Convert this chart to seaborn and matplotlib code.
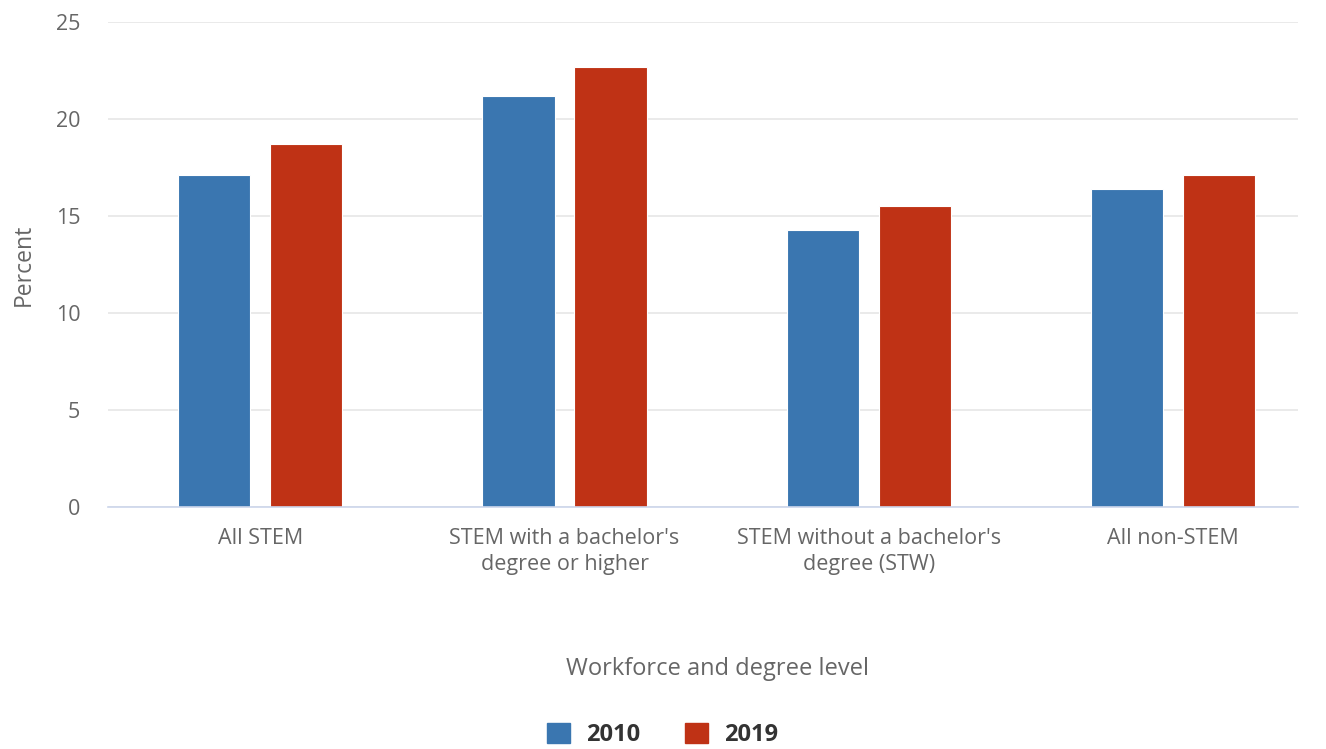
import pandas as pd
import matplotlib.pyplot as plt
import seaborn as sns

categories = [
    "All STEM",
    "STEM with a bachelor's\ndegree or higher",
    "STEM without a bachelor's\ndegree (STW)",
    "All non-STEM",
]
years = ["2010", "2019"]
values_2010 = [17.1, 21.2, 14.3, 16.4]
values_2019 = [18.7, 22.7, 15.5, 17.1]

colors = ["#3a76b0", "#bf3215"]

df = pd.DataFrame({
    "category": categories * 2,
    "year": [years[0]] * 4 + [years[1]] * 4,
    "percent": values_2010 + values_2019,
})

sns.set_style("white")
plt.rcParams["font.family"] = ["Open Sans", "DejaVu Sans"]

fig, ax = plt.subplots(figsize=(13.26, 7.49), dpi=100)
fig.subplots_adjust(left=108 / 1326, right=1298 / 1326, top=1 - 22 / 749, bottom=1 - 507 / 749)

sns.barplot(
    data=df, x="category", y="percent", hue="year",
    palette=colors, saturation=1, width=0.604, gap=0.215,
    edgecolor="white", linewidth=0.8, ax=ax, legend=False,
)

ax.set_xlim(-0.5, 3.41)
ax.set_ylim(0, 25)
ax.set_yticks([0, 5, 10, 15, 20, 25])
ax.yaxis.grid(True, color="#e6e6e6", linewidth=1.2)
ax.set_axisbelow(True)

for side in ["top", "right", "left"]:
    ax.spines[side].set_visible(False)
ax.spines["bottom"].set_color("#ccd6eb")
ax.spines["bottom"].set_linewidth(1.2)

ax.tick_params(axis="x", colors="#ccd6eb", length=11, width=1.2, direction="out", pad=4,
               labelcolor="#666666", labelsize=15.5)
ax.tick_params(axis="y", length=0, pad=20, labelcolor="#666666", labelsize=15.5)
for lbl in ax.get_xticklabels():
    lbl.set_linespacing(1.35)

ax.set_ylabel("Percent", color="#666666", fontsize=16.5, labelpad=14)
ax.set_xlabel("Workforce and degree level", color="#666666", fontsize=17)
ax.xaxis.set_label_coords(0.5126, -0.31)

handles = [plt.Rectangle((0, 0), 1, 1, color=c) for c in colors]
fig.legend(handles, years, loc="center", bbox_to_anchor=(663 / 1326, 1 - 735 / 749),
           ncol=2, frameon=False, handlelength=0.95, handleheight=0.95,
           columnspacing=1.9, handletextpad=0.7,
           prop={"weight": "bold", "size": 17})
for t in fig.legends[0].get_texts():
    t.set_color("#333333")

fig.savefig("out.png", dpi=100)
